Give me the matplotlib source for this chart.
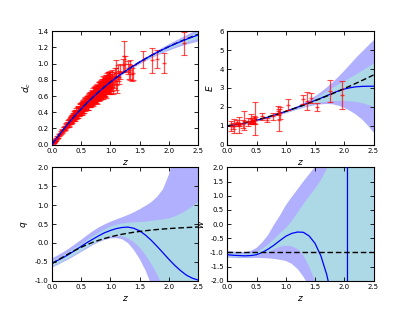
import matplotlib
matplotlib.use("Agg")
import matplotlib.pyplot as plt
import matplotlib.ticker as mticker
import numpy as np

# ---------------- data ----------------
z_grid = [0.0, 0.1, 0.2, 0.3, 0.4, 0.5, 0.6, 0.7, 0.8, 0.9, 1.0, 1.1, 1.2,
          1.3, 1.4, 1.5, 1.6, 1.7, 1.8, 1.9, 2.0, 2.1, 2.2, 2.3, 2.4, 2.5]

# comoving distance panel
dc_lcdm = [0.0, 0.0976, 0.1906, 0.2788, 0.3622, 0.4409, 0.5151, 0.5850, 0.6509,
           0.7130, 0.7715, 0.8267, 0.8788, 0.9281, 0.9748, 1.0191, 1.0611, 1.1010,
           1.1390, 1.1752, 1.2097, 1.2427, 1.2742, 1.3044, 1.3333, 1.3610]
dc_rec = [0.0, 0.0976, 0.1906, 0.2788, 0.3622, 0.4409, 0.5151, 0.5850, 0.6509,
          0.7130, 0.7715, 0.8267, 0.8788, 0.9281, 0.9748, 1.0190, 1.0608, 1.1005,
          1.1382, 1.1740, 1.2085, 1.2405, 1.2710, 1.3000, 1.3275, 1.3530]
dc_sig1 = [0.0, 0.001, 0.0015, 0.002, 0.0025, 0.003, 0.0035, 0.004, 0.004, 0.0045,
           0.005, 0.0055, 0.006, 0.007, 0.008, 0.0095, 0.011, 0.013, 0.015, 0.0175,
           0.02, 0.023, 0.026, 0.030, 0.035, 0.040]
dc_sig2 = [0.0, 0.002, 0.003, 0.004, 0.005, 0.006, 0.007, 0.008, 0.008, 0.009,
           0.010, 0.011, 0.012, 0.014, 0.016, 0.019, 0.022, 0.026, 0.030, 0.035,
           0.040, 0.045, 0.051, 0.058, 0.066, 0.075]

# supernova sample A (low z, sparse high z)
sn_z = [0.015, 0.02, 0.025, 0.03, 0.035, 0.04, 0.045, 0.05, 0.06, 0.07, 0.08, 0.09, 0.10,
        0.12, 0.14, 0.15, 0.17, 0.18, 0.30,
        0.31, 0.32, 0.33, 0.34, 0.35, 0.36, 0.37, 0.38, 0.39, 0.40, 0.41, 0.42, 0.43,
        0.44, 0.45, 0.46, 0.47, 0.48, 0.50, 0.51, 0.52, 0.53, 0.54, 0.55, 0.56, 0.57,
        0.58, 0.60, 0.61, 0.62, 0.63, 0.64, 0.65, 0.66, 0.67, 0.68, 0.69, 0.70, 0.71,
        0.72, 0.73, 0.74, 0.75, 0.76, 0.77, 0.78, 0.79, 0.80, 0.81, 0.82, 0.83, 0.84,
        0.85, 0.86, 0.87, 0.88, 0.89, 0.90, 0.91, 0.92, 0.93, 0.94, 0.95, 0.96, 0.97,
        0.98, 0.99, 1.00, 1.01, 1.02, 1.03, 1.05, 1.06, 1.08, 1.10, 1.10, 1.12, 1.13,
        1.14, 1.16, 1.21, 1.23, 1.25, 1.30, 1.32, 1.34, 1.37, 1.39, 1.55, 1.71, 1.80,
        1.92, 2.26]
sn_dc = [0.015, 0.021, 0.024, 0.030, 0.034, 0.041, 0.044, 0.051, 0.058, 0.071, 0.078, 0.091, 0.096,
         0.118, 0.133, 0.151, 0.160, 0.178, 0.268,
         0.295, 0.302, 0.318, 0.327, 0.330, 0.352, 0.341, 0.370, 0.362, 0.370, 0.380, 0.400, 0.383,
         0.410, 0.428, 0.400, 0.430, 0.455, 0.450, 0.470, 0.440, 0.490, 0.475, 0.500, 0.520, 0.480,
         0.510, 0.530, 0.500, 0.545, 0.555, 0.530, 0.570, 0.545, 0.580, 0.600, 0.560, 0.590, 0.615,
         0.580, 0.620, 0.640, 0.600, 0.630, 0.660, 0.620, 0.650, 0.680, 0.630, 0.670, 0.700, 0.660,
         0.690, 0.720, 0.680, 0.710, 0.740, 0.700, 0.730, 0.760, 0.720, 0.750, 0.780, 0.740, 0.770,
         0.800, 0.760, 0.790, 0.740, 0.820, 0.770, 0.730, 0.800, 0.850, 0.780, 0.950, 0.740, 0.880,
         0.830, 0.900, 0.980, 1.090, 1.000, 0.950, 0.900, 0.920, 0.870, 0.890, 1.050, 1.040, 1.060,
         1.010, 1.250]
sn_err = [0.003, 0.003, 0.004, 0.004, 0.004, 0.005, 0.005, 0.006, 0.007, 0.008, 0.009, 0.010, 0.011,
          0.013, 0.015, 0.016, 0.018, 0.020, 0.034,
          0.036, 0.037, 0.038, 0.039, 0.040, 0.041, 0.042, 0.043, 0.044, 0.045, 0.046, 0.047, 0.048,
          0.049, 0.050, 0.052, 0.053, 0.054, 0.055, 0.056, 0.057, 0.058, 0.059, 0.060, 0.062, 0.063,
          0.064, 0.066, 0.067, 0.068, 0.069, 0.070, 0.072, 0.073, 0.074, 0.075, 0.076, 0.077, 0.078,
          0.079, 0.080, 0.081, 0.082, 0.083, 0.084, 0.085, 0.086, 0.087, 0.088, 0.089, 0.090, 0.090,
          0.091, 0.092, 0.093, 0.094, 0.095, 0.096, 0.097, 0.098, 0.098, 0.099, 0.100, 0.100, 0.101,
          0.102, 0.103, 0.104, 0.104, 0.105, 0.105, 0.100, 0.100, 0.100, 0.100, 0.100, 0.100, 0.100,
          0.080, 0.090, 0.080, 0.190, 0.090, 0.080, 0.090, 0.120, 0.080, 0.090, 0.100, 0.150, 0.110,
          0.120, 0.140]

# supernova sample B (dense intermediate z)
sn2_z = [0.20, 0.21, 0.22, 0.23, 0.24, 0.25, 0.26, 0.27, 0.28, 0.29, 0.30, 0.31, 0.32, 0.33,
         0.34, 0.35, 0.36, 0.37, 0.38, 0.39, 0.40, 0.41, 0.42, 0.43, 0.44, 0.45, 0.46, 0.47,
         0.48, 0.49, 0.50, 0.51, 0.52, 0.53, 0.54, 0.55, 0.56, 0.57, 0.58, 0.59, 0.60, 0.61,
         0.62, 0.63, 0.64, 0.65, 0.66, 0.67, 0.68, 0.69, 0.70, 0.71, 0.72, 0.73, 0.74, 0.75,
         0.76, 0.77, 0.78, 0.79, 0.80, 0.81, 0.82, 0.83, 0.84, 0.85, 0.86, 0.87, 0.88, 0.89,
         0.90, 0.91, 0.92, 0.93, 0.94, 0.95, 0.96, 0.97, 0.98, 0.99, 1.00]
sn2_dc = [0.199, 0.193, 0.211, 0.204, 0.241, 0.231, 0.251, 0.242, 0.275, 0.252, 0.281, 0.281,
          0.314, 0.295, 0.324, 0.304, 0.344, 0.324, 0.351, 0.332, 0.387, 0.364, 0.390, 0.368,
          0.416, 0.374, 0.412, 0.407, 0.452, 0.419, 0.459, 0.423, 0.478, 0.444, 0.479, 0.447,
          0.520, 0.484, 0.516, 0.483, 0.544, 0.484, 0.533, 0.523, 0.579, 0.532, 0.580, 0.531,
          0.600, 0.554, 0.595, 0.552, 0.643, 0.595, 0.632, 0.586, 0.662, 0.582, 0.644, 0.627,
          0.696, 0.634, 0.692, 0.628, 0.711, 0.652, 0.700, 0.645, 0.756, 0.695, 0.738, 0.681,
          0.770, 0.671, 0.743, 0.722, 0.802, 0.727, 0.794, 0.718, 0.814]
sn2_err = [0.020, 0.022, 0.022, 0.024, 0.025, 0.025, 0.027, 0.028, 0.029, 0.030, 0.031, 0.032,
           0.033, 0.034, 0.035, 0.036, 0.037, 0.038, 0.039, 0.040, 0.041, 0.042, 0.043, 0.044,
           0.045, 0.046, 0.047, 0.048, 0.049, 0.050, 0.050, 0.051, 0.052, 0.053, 0.054, 0.055,
           0.056, 0.057, 0.058, 0.059, 0.060, 0.061, 0.062, 0.063, 0.064, 0.065, 0.066, 0.067,
           0.068, 0.069, 0.070, 0.071, 0.072, 0.073, 0.074, 0.075, 0.076, 0.077, 0.078, 0.079,
           0.080, 0.081, 0.082, 0.083, 0.084, 0.085, 0.086, 0.087, 0.088, 0.089, 0.090, 0.091,
           0.092, 0.093, 0.094, 0.095, 0.096, 0.097, 0.098, 0.099, 0.100]

# expansion rate panel
E_lcdm = [1.0, 1.0485, 1.1038, 1.1658, 1.2342, 1.3086, 1.3888, 1.4744, 1.5651, 1.6606,
          1.7607, 1.865, 1.9734, 2.0857, 2.2016, 2.3211, 2.444, 2.570, 2.6992, 2.8314,
          2.9665, 3.1044, 3.245, 3.3884, 3.5343, 3.6827]
E_rec = [1.0, 1.03, 1.08, 1.14, 1.21, 1.29, 1.37, 1.46, 1.56, 1.66, 1.76, 1.87, 1.98,
         2.10, 2.22, 2.34, 2.46, 2.59, 2.72, 2.84, 2.94, 3.01, 3.06, 3.08, 3.09, 3.09]
E_2lo = [0.97, 0.99, 1.04, 1.10, 1.17, 1.24, 1.32, 1.41, 1.50, 1.60, 1.69, 1.79, 1.89,
         1.98, 2.06, 2.12, 2.16, 2.18, 2.16, 2.08, 1.96, 1.80, 1.60, 1.35, 1.02, 0.65]
E_1lo = [0.985, 1.01, 1.06, 1.12, 1.19, 1.265, 1.345, 1.435, 1.53, 1.63, 1.725, 1.83, 1.935,
         2.04, 2.13, 2.20, 2.26, 2.30, 2.33, 2.34, 2.34, 2.32, 2.28, 2.22, 2.13, 2.02]
E_1hi = [1.015, 1.05, 1.10, 1.16, 1.23, 1.315, 1.395, 1.485, 1.59, 1.69, 1.795, 1.91, 2.025,
         2.16, 2.31, 2.48, 2.65, 2.84, 3.04, 3.22, 3.40, 3.57, 3.75, 3.94, 4.13, 4.32]
E_2hi = [1.03, 1.07, 1.12, 1.18, 1.25, 1.34, 1.42, 1.51, 1.62, 1.72, 1.83, 1.95, 2.07,
         2.23, 2.40, 2.60, 2.82, 3.07, 3.34, 3.64, 3.96, 4.30, 4.64, 4.95, 5.26, 5.56]

hz_z = [0.07, 0.09, 0.12, 0.17, 0.179, 0.199, 0.20, 0.27, 0.28, 0.352, 0.38, 0.40, 0.4247,
        0.44, 0.4497, 0.47, 0.48, 0.593, 0.68, 0.781, 0.875, 0.88, 0.90, 1.037, 1.30,
        1.363, 1.43, 1.53, 1.75, 1.965]
hz_E = [0.98, 1.00, 0.98, 1.18, 1.07, 1.07, 1.04, 1.10, 1.27, 1.19, 1.17, 1.36, 1.24,
        1.18, 1.33, 1.28, 1.39, 1.49, 1.31, 1.50, 1.79, 1.29, 1.67, 2.10, 2.40,
        2.29, 2.45, 1.98, 2.82, 2.62]
hz_err = [0.28, 0.17, 0.37, 0.11, 0.06, 0.07, 0.42, 0.20, 0.52, 0.20, 0.10, 0.24, 0.16,
          0.11, 0.18, 0.20, 0.89, 0.19, 0.11, 0.17, 0.24, 0.57, 0.33, 0.29, 0.24,
          0.48, 0.26, 0.20, 0.58, 0.72]

# deceleration parameter panel
q_lcdm = [-0.55, -0.455, -0.362, -0.273, -0.189, -0.113, -0.044, 0.017, 0.071, 0.119,
          0.161, 0.198, 0.231, 0.259, 0.283, 0.305, 0.324, 0.341, 0.356, 0.369, 0.381,
          0.391, 0.400, 0.408, 0.416, 0.423]
q_rec = [-0.53, -0.46, -0.38, -0.29, -0.19, -0.09, 0.01, 0.10, 0.19, 0.27, 0.33, 0.38,
         0.41, 0.42, 0.39, 0.32, 0.21, 0.07, -0.09, -0.26, -0.43, -0.59, -0.73, -0.85,
         -0.93, -0.98]
q_2lo = [-0.65, -0.58, -0.50, -0.42, -0.33, -0.24, -0.15, -0.06, 0.02, 0.08, 0.12, 0.13,
         0.10, 0.00, -0.18, -0.42, -0.72, -1.10, -1.50, -2.0, -2.5, -3.0, -3.5, -4.0,
         -4.5, -5.0]
q_1lo = [-0.60, -0.53, -0.45, -0.37, -0.28, -0.19, -0.10, -0.02, 0.06, 0.13, 0.18, 0.20,
         0.19, 0.13, 0.03, -0.12, -0.32, -0.56, -0.85, -1.2, -1.6, -2.0, -2.5, -3.0,
         -3.5, -4.0]
q_1hi = [-0.46, -0.39, -0.31, -0.21, -0.11, -0.01, 0.10, 0.20, 0.29, 0.38, 0.45, 0.50,
         0.53, 0.55, 0.56, 0.57, 0.58, 0.60, 0.62, 0.64, 0.67, 0.72, 0.79, 0.88, 0.99, 1.12]
q_2hi = [-0.41, -0.33, -0.24, -0.14, -0.03, 0.08, 0.20, 0.31, 0.41, 0.49, 0.56, 0.62,
         0.68, 0.74, 0.81, 0.89, 0.98, 1.08, 1.22, 1.42, 1.80, 2.4, 3.0, 3.6, 4.2, 4.8]

# equation of state panel
w_lcdm = [-1.0] * 26
w_line_z = [0.0, 0.1, 0.2, 0.3, 0.4, 0.5, 0.6, 0.7, 0.8, 0.9, 1.0, 1.1, 1.2, 1.3, 1.4,
            1.5, 1.6, 1.7, 1.8, 1.9, 2.0, 2.04, 2.05, 2.06, 2.1, 2.2, 2.3, 2.4, 2.5]
w_rec = [-1.08, -1.10, -1.11, -1.12, -1.11, -1.08, -1.00, -0.88, -0.74, -0.58, -0.43,
         -0.33, -0.28, -0.29, -0.42, -0.68, -1.12, -1.78, -2.7, -4.5, -10.0, -40.0,
         -200.0, 200.0, 30.0, 12.0, 8.0, 6.0, 5.0]
w_2lo = [-1.18, -1.19, -1.20, -1.20, -1.20, -1.19, -1.20, -1.21, -1.23, -1.26, -1.30,
         -1.40, -1.58, -1.85, -2.2, -2.7, -3.2, -3.8, -4.5, -5.5, -7.0, -9.0, -11.0,
         -13.0, -15.0, -17.0]
w_1lo = [-1.14, -1.15, -1.16, -1.16, -1.15, -1.12, -1.06, -0.98, -0.88, -0.80, -0.76,
         -0.78, -0.88, -1.10, -1.50, -2.0, -2.7, -3.5, -4.5, -6.0, -8.0, -10.0, -12.0,
         -14.0, -16.0, -18.0]
w_1hi = [-1.00, -1.03, -1.05, -1.06, -1.04, -0.98, -0.87, -0.72, -0.53, -0.33, -0.14,
         0.10, 0.40, 0.70, 0.98, 1.25, 1.55, 1.95, 2.5, 3.5, 5.0, 7.0, 9.0, 11.0, 13.0, 15.0]
w_2hi = [-0.94, -0.97, -0.99, -0.99, -0.95, -0.84, -0.64, -0.38, -0.02, 0.30, 0.66,
         0.95, 1.22, 1.50, 1.76, 2.02, 2.4, 3.0, 3.8, 4.8, 6.0, 7.5, 9.0, 11.0, 13.0, 15.0]

x_ticks = [0.0, 0.5, 1.0, 1.5, 2.0, 2.5]

# ---------------- style ----------------
plt.rcParams.update({
    "font.family": ["DejaVu Sans"],
    "font.size": 5,
    "axes.linewidth": 0.8,
    "xtick.direction": "in",
    "ytick.direction": "in",
    "xtick.top": True,
    "ytick.right": True,
    "xtick.major.size": 3,
    "ytick.major.size": 3,
    "xtick.major.width": 0.6,
    "ytick.major.width": 0.6,
    "xtick.major.pad": 2.5,
    "ytick.major.pad": 2.5,
    "axes.labelsize": 6.5,
    "axes.labelpad": 3,
})

C2 = "#b0b0ff"
C1 = "#add8e6"
EB = dict(fmt="_", color="red", ecolor="red", ms=3, elinewidth=0.9,
          capsize=2.3, capthick=0.8, alpha=0.7)

fig, axs = plt.subplots(2, 2, figsize=(4.15, 3.12), dpi=100)
fig.subplots_adjust(left=0.125, right=0.9, bottom=0.1, top=0.9, wspace=0.2, hspace=0.2)
zg = np.array(z_grid)

# d_c
ax = axs[0, 0]
rec = np.array(dc_rec)
s1 = np.array(dc_sig1)
s2 = np.array(dc_sig2)
ax.fill_between(zg, rec - s2, rec + s2, color=C2, lw=0, zorder=1)
ax.fill_between(zg, rec - s1, rec + s1, color=C1, lw=0, zorder=1.1)
ax.errorbar(sn2_z, sn2_dc, yerr=sn2_err, zorder=2, **EB)
ax.errorbar(sn_z, sn_dc, yerr=sn_err, zorder=2.1, **EB)
ax.plot(zg, dc_lcdm, color="k", ls="--", lw=1.0, dashes=(4, 2), zorder=3)
ax.plot(zg, rec, color="b", lw=0.9, zorder=4)
ax.set_xlim(0, 2.5)
ax.set_ylim(0, 1.4)
ax.set_xticks(x_ticks)
ax.set_yticks([0.0, 0.2, 0.4, 0.6, 0.8, 1.0, 1.2, 1.4])
ax.set_xlabel(r"$z$")
ax.set_ylabel(r"$d_c$")

# E
ax = axs[0, 1]
ax.fill_between(zg, E_2lo, E_2hi, color=C2, lw=0, zorder=1)
ax.fill_between(zg, E_1lo, E_1hi, color=C1, lw=0, zorder=1.1)
ax.plot(zg, E_rec, color="b", lw=0.9, zorder=3)
ax.plot(zg, E_lcdm, color="k", ls="--", lw=1.0, dashes=(4, 2), zorder=3.5)
ax.errorbar(hz_z, hz_E, yerr=hz_err, zorder=4, **EB)
ax.set_xlim(0, 2.5)
ax.set_ylim(0, 6)
ax.set_xticks(x_ticks)
ax.set_yticks([0, 1, 2, 3, 4, 5, 6])
ax.set_xlabel(r"$z$")
ax.set_ylabel(r"$E$")

# q
ax = axs[1, 0]
ax.fill_between(zg, q_2lo, q_2hi, color=C2, lw=0, zorder=1)
ax.fill_between(zg, q_1lo, q_1hi, color=C1, lw=0, zorder=1.1)
ax.plot(zg, q_rec, color="b", lw=0.9, zorder=3)
ax.plot(zg, q_lcdm, color="k", ls="--", lw=1.0, dashes=(4, 2), zorder=3.5)
ax.set_xlim(0, 2.5)
ax.set_ylim(-1, 2)
ax.set_xticks(x_ticks)
ax.set_yticks([-1.0, -0.5, 0.0, 0.5, 1.0, 1.5, 2.0])
ax.set_xlabel(r"$z$")
ax.set_ylabel(r"$q$")

# w
ax = axs[1, 1]
ax.fill_between(zg, w_2lo, w_2hi, color=C2, lw=0, zorder=1)
ax.fill_between(zg, w_1lo, w_1hi, color=C1, lw=0, zorder=1.1)
ax.plot(w_line_z, w_rec, color="b", lw=0.9, zorder=3)
ax.plot(zg, w_lcdm, color="k", ls="--", lw=1.0, dashes=(4, 2), zorder=3.5)
ax.set_xlim(0, 2.5)
ax.set_ylim(-2, 2)
ax.set_xticks(x_ticks)
ax.set_yticks([-2.0, -1.5, -1.0, -0.5, 0.0, 0.5, 1.0, 1.5, 2.0])
ax.set_xlabel(r"$z$")
ax.set_ylabel(r"$w$")

for ax in axs.flat:
    ax.yaxis.set_major_formatter(mticker.FormatStrFormatter("%.1f"))
    ax.xaxis.set_major_formatter(mticker.FormatStrFormatter("%.1f"))
axs[0, 1].yaxis.set_major_formatter(mticker.FormatStrFormatter("%d"))

fig.savefig("out.png", dpi=100)
